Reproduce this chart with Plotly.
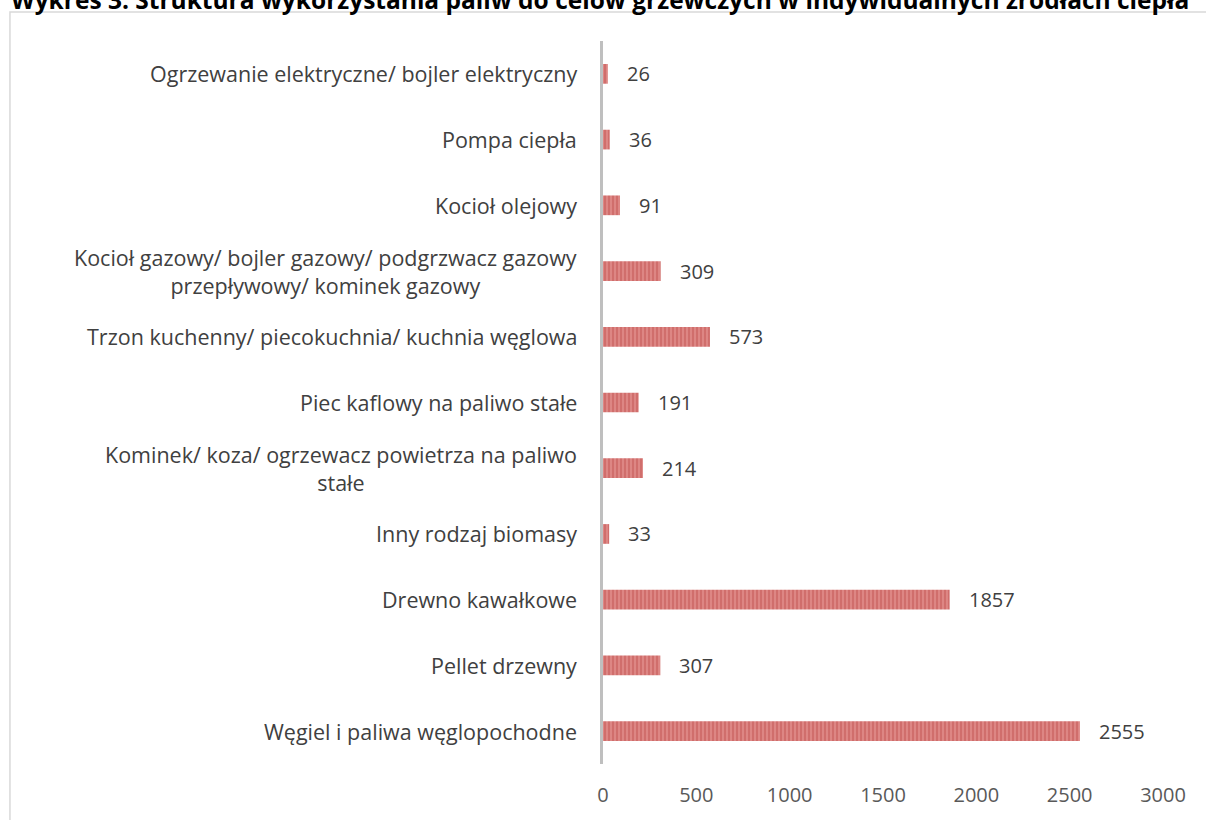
import plotly.graph_objects as go

categories = [
    "Węgiel i paliwa węglopochodne",
    "Pellet drzewny",
    "Drewno kawałkowe",
    "Inny rodzaj biomasy",
    "Kominek/ koza/ ogrzewacz powietrza na paliwo<br>stałe",
    "Piec kaflowy na paliwo stałe",
    "Trzon kuchenny/ piecokuchnia/ kuchnia węglowa",
    "Kocioł gazowy/ bojler gazowy/ podgrzwacz gazowy<br>przepływowy/ kominek gazowy",
    "Kocioł olejowy",
    "Pompa ciepła",
    "Ogrzewanie elektryczne/ bojler elektryczny",
]
values = [2555, 307, 1857, 33, 214, 191, 573, 309, 91, 36, 26]
title = "Wykres 3. Struktura wykorzystania paliw do celów grzewczych w indywidualnych źródłach ciepła"

font = "Open Sans, Liberation Sans, sans-serif"

fig = go.Figure()
fig.add_trace(go.Bar(
    x=values, y=list(range(len(categories))), orientation="h",
    marker=dict(color="#dc8482", line=dict(width=0),
                pattern=dict(shape="|", fgcolor="#c0504d", bgcolor="#e08c8a", size=4, solidity=0.6)),
    width=0.3, hoverinfo="x",
))

# value labels next to bars, category labels on the left (lines centred like Excel)
for i, (cat, v) in enumerate(zip(categories, values)):
    fig.add_annotation(x=v, y=i, xref="x", yref="y", text=str(v), showarrow=False,
                       xanchor="left", xshift=17, font=dict(size=20, color="#404040", family=font))
    fig.add_annotation(x=0, y=i, xref="paper", yref="y", text=cat, showarrow=False,
                       xanchor="right", xshift=-24, align="center",
                       font=dict(size=21.5, color="#404040", family=font))

# title is clipped at the top edge, as in the source image
fig.add_annotation(x=-0.005, y=1.057, xref="paper", yref="paper", text=f"<b>{title}</b>", showarrow=False,
                   xanchor="center", yanchor="middle", font=dict(size=24.5, color="#000000", family=font))
fig.add_shape(type="rect", xref="paper", yref="paper", x0=-1.059, x1=1.12, y0=-0.12, y1=1.040,
              line=dict(color="#d9d9d9", width=1.5), layer="below")

fig.update_layout(
    width=1206, height=820, plot_bgcolor="white", paper_bgcolor="white",
    margin=dict(l=603, r=43, t=41, b=53), showlegend=False,
    font=dict(family=font, color="#595959"),
)
fig.update_xaxes(range=[0, 3000], dtick=500, showgrid=False, zeroline=False, showline=False,
                 tickfont=dict(size=20, color="#595959"), ticks="", ticklabelstandoff=17)
fig.update_yaxes(range=[-0.5, len(categories) - 0.5], showticklabels=False, showgrid=False, zeroline=False,
                 showline=True, linecolor="#bfbfbf", linewidth=3, ticks="")

fig.write_html("out.html", config={"displayModeBar": False},
               post_script="document.body.style.margin = '0';")
